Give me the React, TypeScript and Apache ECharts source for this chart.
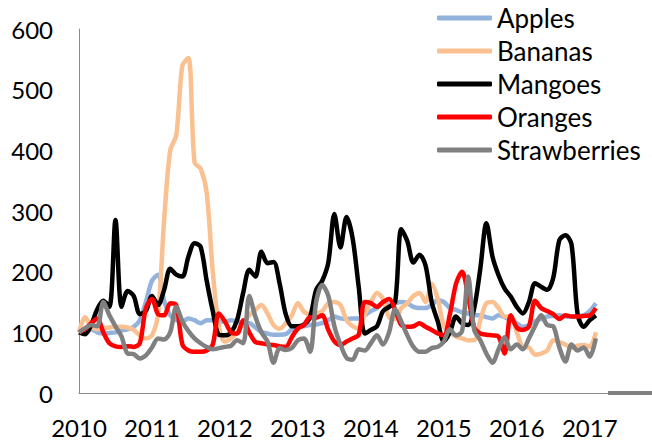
import React, { useEffect, useRef } from "react";
import * as echarts from "echarts";

const years = [2010, 2011, 2012, 2013, 2014, 2015, 2016, 2017];
const monthsCount = 88;
const categories: string[] = [];
for (const y of years) {
  for (let m = 1; m <= 12; m++) {
    if (categories.length < monthsCount) categories.push(`${y}-${String(m).padStart(2, "0")}`);
  }
}

const apples = [100,103,105,100,98,99,100,103,105,109,
120,150,185,195,152,128,120,118,123,120,
115,120,120,118,118,120,118,115,115,108,
101,98,96,96,97,105,109,110,112,113,
115,120,126,123,122,123,123,128,135,140,
148,145,148,150,148,142,140,140,145,153,
150,140,137,133,131,128,128,125,123,128,
125,120,115,109,112,118,122,126,127,128,
126,126,127,128,135,148];

const bananas = [100,125,110,105,107,108,109,109,108,104,
95,90,95,130,285,400,425,540,552,380,
370,330,200,110,85,90,100,115,128,137,
145,131,112,106,115,128,148,134,130,131,
135,148,150,145,120,110,106,130,150,165,
155,125,122,140,148,160,165,150,180,155,
110,100,93,90,87,87,120,148,150,140,
126,126,100,76,75,63,65,70,87,84,
80,74,78,79,76,100];

const mangoes = [100,97,112,138,152,142,285,142,168,160,
130,135,160,145,170,205,195,192,225,247,
241,185,135,96,95,100,120,165,203,192,
233,214,216,180,130,110,110,113,125,170,
185,215,295,240,290,255,175,98,104,110,
135,142,150,270,250,215,228,210,150,118,
85,100,126,115,112,140,205,280,225,194,
172,159,142,131,150,181,175,170,190,252,
260,245,130,109,120,128];

const oranges = [100,105,115,123,100,82,77,76,77,76,
82,140,155,130,128,148,145,80,70,68,
68,70,80,131,118,100,98,120,100,84,
82,80,79,77,76,92,106,112,125,124,
128,104,85,79,85,90,96,150,148,142,
150,155,137,112,109,110,115,109,104,98,
95,130,180,200,160,108,98,96,95,93,
65,128,108,104,110,152,140,135,130,122,
128,126,126,127,128,140];

const strawberries = [100,107,112,110,150,128,110,93,65,64,
57,62,75,90,88,100,142,118,102,90,
82,76,72,74,76,78,87,82,160,126,
100,85,50,74,71,74,87,90,68,150,
178,160,110,80,58,55,72,70,82,95,
80,100,138,118,95,76,68,68,74,76,
85,105,95,102,192,104,87,65,50,72,
92,72,80,72,90,110,128,112,110,75,
52,80,70,75,60,90];

const seriesNames = ["Apples", "Bananas", "Mangoes", "Oranges", "Strawberries"];
const seriesData = [apples, bananas, mangoes, oranges, strawberries];
const seriesColors = ["#93B3DC", "#FAC090", "#000000", "#FF0000", "#808080"];

const yTicks = { min: 0, max: 600, interval: 100 };

export default function App() {
  const ref = useRef<HTMLDivElement>(null);
  useEffect(() => {
    if (!ref.current) return;
    const chart = echarts.init(ref.current, null, { renderer: "svg" });
    chart.setOption({
      animation: false,
      backgroundColor: "#ffffff",
      textStyle: { fontFamily: "Lato" },
      grid: { left: 79, right: 44, top: 29, bottom: 48, containLabel: false },
      legend: {
        orient: "vertical",
        left: 437,
        top: 4,
        padding: 0,
        itemGap: 5,
        itemWidth: 55,
        itemHeight: 5,
        icon: "roundRect",
        data: seriesNames,
        textStyle: { fontFamily: "Lato", fontSize: 26, color: "#000", lineHeight: 28 },
      },
      xAxis: {
        type: "category",
        data: categories,
        boundaryGap: false,
        axisLine: { show: true, lineStyle: { color: "#8c8c8c", width: 1 } },
        axisTick: { show: false },
        splitLine: { show: false },
        axisLabel: {
          interval: (i: number) => i % 12 === 0,
          formatter: (v: string) => v.slice(0, 4),
          fontFamily: "Lato",
          fontSize: 24,
          color: "#000",
          margin: 22,
        },
      },
      yAxis: {
        type: "value",
        min: yTicks.min,
        max: yTicks.max,
        interval: yTicks.interval,
        axisLine: { show: true, lineStyle: { color: "#8c8c8c", width: 1 } },
        axisTick: { show: false },
        splitLine: { show: false },
        axisLabel: { fontFamily: "Lato", fontSize: 24, color: "#000", margin: 26 },
      },
      graphic: [
        {
          type: "line",
          shape: { x1: 608, y1: 393, x2: 652, y2: 393 },
          style: { stroke: "#808080", lineWidth: 4 },
        },
      ],
      series: seriesNames.map((name, k) => ({
        name,
        type: "line",
        data: seriesData[k],
        smooth: 0.3,
        symbol: "none",
        lineStyle: { color: seriesColors[k], width: 4.5 },
        itemStyle: { color: seriesColors[k] },
      })),
    });
    return () => chart.dispose();
  }, []);
  return (
    <div
      ref={ref}
      style={{ position: "fixed", left: 0, top: 0, width: 652, height: 441 }}
    />
  );
}
